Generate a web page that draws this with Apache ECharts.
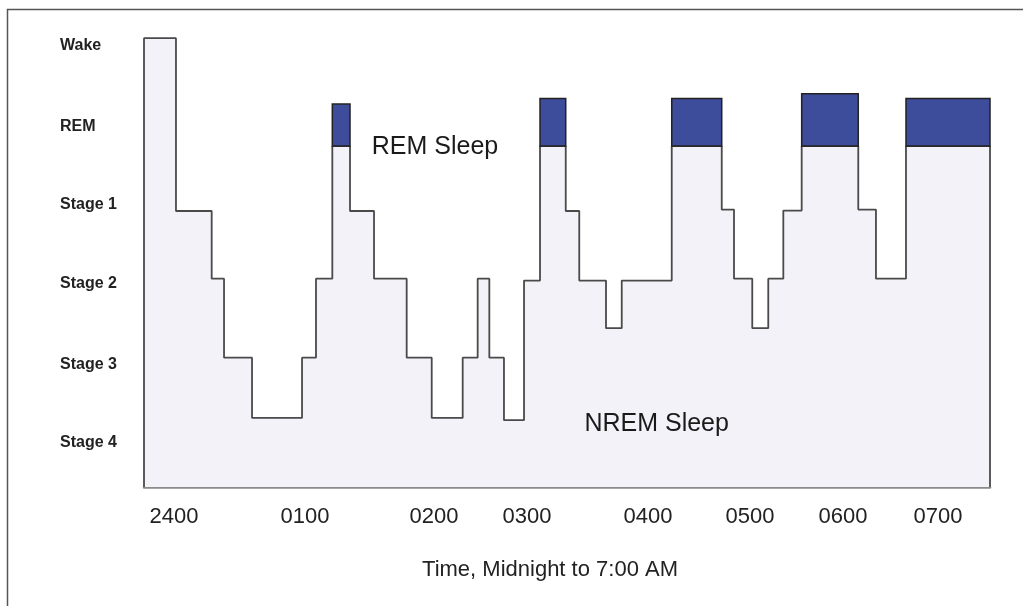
<!DOCTYPE html>
<html>
<head>
<meta charset="utf-8">
<script src="https://cdn.jsdelivr.net/npm/echarts@6/dist/echarts.min.js"></script>
<style>
  html, body { margin: 0; padding: 0; background: #fff; }
  #chart { width: 1023px; height: 606px; }
</style>
</head>
<body>
<div id="chart"></div>
<script>
// x: share of the night (0-100), y: depth scale (0 = bottom, 100 = top)
const hypnoTime = [0, 0, 3.78, 8.0, 9.46, 12.77, 18.68, 20.33, 22.26, 24.35, 27.19, 31.05, 34.01, 37.67,
  39.44, 40.82, 42.55, 44.92, 46.81, 49.85, 51.45, 54.61, 56.47, 62.38, 68.29, 69.74, 71.9, 73.79,
  75.57, 77.74, 84.43, 86.52, 90.07, 100, 100];
const hypnoLevel = [0, 96.1, 59.1, 44.6, 27.7, 14.8, 27.7, 44.6, 73.0, 59.1, 44.6, 27.7, 14.8, 27.7,
  44.6, 27.7, 14.3, 44.2, 73.0, 59.1, 44.2, 34.0, 44.2, 73.0, 59.4, 44.6, 34.0, 44.6,
  59.2, 73.0, 59.4, 44.6, 73.0, 73.0, 0];

// REM episodes: start, end, top of the block
const remStart = [22.26, 46.81, 62.38, 77.74, 90.07];
const remEnd = [24.35, 49.85, 68.29, 84.43, 100];
const remTop = [82.0, 83.2, 83.2, 84.2, 83.2];
const remBase = 73.0;

const stageNames = ['Wake', 'REM', 'Stage 1', 'Stage 2', 'Stage 3', 'Stage 4'];
const stageLabelAt = [94.6, 77.1, 60.5, 43.5, 26.3, 9.6];

const timeNames = ['2400', '0100', '0200', '0300', '0400', '0500', '0600', '0700'];
const timeLabelAt = [3.55, 19.03, 34.28, 45.27, 59.57, 71.63, 82.62, 93.85];

const notes = ['REM Sleep', 'NREM Sleep'];
const noteX = [34.4, 60.6];
const noteY = [72.8, 13.5];

const chart = echarts.init(document.getElementById('chart'));
const font = 'Liberation Sans, Arial, sans-serif';

chart.setOption({
  animation: false,
  grid: { left: 144, right: 33, top: 20, bottom: 119 },
  graphic: [
    {
      type: 'rect',
      shape: { x: 7.5, y: 9.5, width: 1200, height: 800 },
      style: { fill: 'none', stroke: '#555', lineWidth: 1.5 },
      z: -1
    },
    {
      type: 'text',
      x: 550,
      y: 570,
      style: {
        text: 'Time, Midnight to 7:00 AM',
        font: '22px ' + font,
        fill: '#222',
        align: 'center',
        verticalAlign: 'middle'
      }
    }
  ],
  xAxis: {
    type: 'value',
    min: 0,
    max: 100,
    splitLine: { show: false },
    axisTick: { show: false },
    axisLine: { show: true, lineStyle: { color: '#8a8a8a', width: 2.5 } },
    axisLabel: {
      customValues: timeLabelAt,
      formatter: (v) => timeNames[timeLabelAt.indexOf(v)],
      fontSize: 22,
      fontFamily: font,
      color: '#222',
      margin: 19
    }
  },
  yAxis: {
    type: 'value',
    min: 0,
    max: 100,
    splitLine: { show: false },
    axisTick: { show: false },
    axisLine: { show: false },
    axisLabel: {
      customValues: stageLabelAt,
      formatter: (v) => stageNames[stageLabelAt.indexOf(v)],
      align: 'left',
      margin: 84,
      fontSize: 16,
      fontWeight: 'bold',
      fontFamily: font,
      color: '#222'
    }
  },
  series: [
    {
      type: 'line',
      step: 'end',
      symbol: 'none',
      data: hypnoTime.map((t, i) => [t, hypnoLevel[i]]),
      lineStyle: { color: '#4a4a4a', width: 1.8 },
      areaStyle: { color: '#f2f2f8', opacity: 1 },
      z: 2
    },
    {
      type: 'custom',
      data: remStart.map((s, i) => [s, remEnd[i], remBase, remTop[i]]),
      encode: { x: [0, 1], y: [2, 3] },
      renderItem: (params, api) => {
        const p0 = api.coord([api.value(0), api.value(2)]);
        const p1 = api.coord([api.value(1), api.value(3)]);
        return {
          type: 'rect',
          shape: { x: p0[0], y: p1[1], width: p1[0] - p0[0], height: p0[1] - p1[1] },
          style: { fill: '#3e4d9b', stroke: '#222', lineWidth: 1.5 }
        };
      },
      z: 3
    },
    {
      type: 'scatter',
      symbolSize: 0,
      itemStyle: { opacity: 1 },
      data: notes.map((n, i) => ({ name: n, value: [noteX[i], noteY[i]] })),
      label: {
        show: true,
        position: 'inside',
        formatter: '{b}',
        fontSize: 25,
        fontFamily: font,
        color: '#1a1a1a',
        opacity: 1,
        textBorderWidth: 0,
        align: 'center',
        verticalAlign: 'middle'
      },
      emphasis: { disabled: true },
      z: 4
    }
  ]
});
</script>
</body>
</html>
